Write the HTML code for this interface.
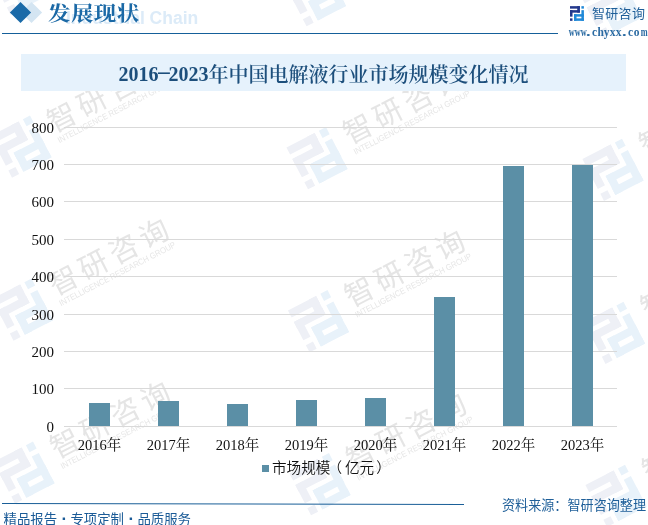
<!DOCTYPE html>
<html><head><meta charset="utf-8">
<style>
*{margin:0;padding:0;box-sizing:border-box}
html,body{width:648px;height:525px;overflow:hidden;background:#fff}
body{position:relative;font-family:"Liberation Sans","Noto Sans CJK SC",sans-serif}
.abs{position:absolute}
.dia{position:absolute;width:15px;height:15px;transform:rotate(45deg)}
.hdr-t{position:absolute;left:48px;top:2px;font:700 22.5px/28px "Liberation Serif","Noto Serif CJK SC",serif;color:#1b69a6;letter-spacing:0.4px;white-space:nowrap;transform:scaleY(0.9);transform-origin:0 0}
.hdr-wm{position:absolute;left:66px;top:8px;font:bold 17.5px/20px "Liberation Sans",sans-serif;color:#dcebf8;white-space:nowrap}
.hline{position:absolute;left:2px;top:33px;width:556px;height:1px;background:#15609a}
.brand{position:absolute;left:592px;top:5.5px;font:13px/16px "Liberation Sans","Noto Sans CJK SC",sans-serif;color:#1f5f99;white-space:nowrap;letter-spacing:0.3px}
.url{position:absolute;left:567.6px;top:25px;font:bold 11.5px/14px "Liberation Serif",serif;color:#2a6aa2;white-space:nowrap}
.url i{display:inline-block;width:6px;text-align:center;font-style:normal}
.url i.n{transform:scaleX(0.72)}
.url i.d{text-align:left;transform:scaleX(1.6);transform-origin:0 0;position:relative;left:0.3px}
.tbox{position:absolute;left:21px;top:54px;width:605px;height:37px;background:#e6f2fc}
.tcj{position:relative;top:1px}
.dash{display:inline-block;width:10px;font-weight:normal;transform:scaleX(2.3);position:relative;top:-3px;}
.ttl{position:absolute;left:21px;top:56px;width:605px;height:37px;text-align:center;font:600 20px/37px "Liberation Serif","Noto Serif CJK SC",serif;color:#1d4f7c;white-space:nowrap}
.gl{position:absolute;left:64px;width:553px;height:1px;background:#d9d9d9}
.yl{position:absolute;left:0;width:54px;text-align:right;font:15px/16px "Liberation Serif","Noto Serif CJK SC",serif;color:#111}
.bar{position:absolute;width:21px;background:#5b8fa6}
.xl{position:absolute;top:436.5px;width:80px;text-align:center;font:14.5px/16px "Liberation Serif","Noto Serif CJK SC",serif;color:#111;white-space:nowrap}
.leg-sq{position:absolute;left:262px;top:465px;width:6.5px;height:6.5px;background:#5b8fa6}
.leg{position:absolute;left:272px;top:457.5px;font:350 14.6px/20px "Liberation Sans","Noto Sans CJK SC",sans-serif;color:#111;white-space:nowrap}
.leg .pl{position:relative;left:-3px}
.leg .pr{position:relative;left:2px}
.fline{position:absolute;left:2px;top:503px;width:462px;height:1.5px;background:#1f6aa5}
.fl{position:absolute;left:3.5px;top:510px;font:400 13.4px/18px "Liberation Sans","Noto Sans CJK SC",sans-serif;color:#1b5b97;white-space:nowrap}
.fl b{display:inline-block;width:13.4px;text-align:center;font-weight:bold;font-size:17px;position:relative;left:0.5px}
.fr{position:absolute;left:502px;top:496.5px;font:400 13.1px/18px "Liberation Sans","Noto Sans CJK SC",sans-serif;color:#1f5f99;white-space:nowrap}
.wmt{font:400 29px "Noto Sans CJK SC",sans-serif;fill:#e5e5e5;letter-spacing:5px}
.wms{font:8.5px "Liberation Sans",sans-serif;fill:#e6e6e6}
#wrap{position:absolute;left:0;top:0;width:648px;height:525px;will-change:transform}
</style></head><body><div id="wrap">
<svg class="abs" style="left:0;top:0" width="648" height="525" viewBox="0 0 648 525"><g transform="translate(-236.00,-57.80) rotate(-27.3)"><g transform="translate(-71.9,-15.6) scale(3.2)"><rect x="0" y="0" width="9.9" height="2.5" fill="#eef0f6"/><rect x="7.25" y="0" width="2.65" height="6.5" fill="#eef0f6"/><rect x="0" y="4" width="9.9" height="2.5" fill="#eef0f6"/><rect x="0" y="4" width="2.5" height="6.5" fill="#eef0f6"/><rect x="0" y="12.2" width="2.5" height="2.5" fill="#eef0f6"/><rect x="11.4" y="0" width="2.5" height="2.5" fill="#e8f2fa"/><rect x="11.4" y="4" width="2.5" height="10.7" fill="#e8f2fa"/><rect x="4" y="8" width="9.9" height="2.5" fill="#e8f2fa"/><rect x="4" y="8" width="2.5" height="6.7" fill="#e8f2fa"/><rect x="4" y="12.2" width="9.9" height="2.5" fill="#e8f2fa"/></g><text x="-14.5" y="11" class="wmt">智研咨询</text><text x="-14" y="22.5" class="wms" textLength="130" lengthAdjust="spacingAndGlyphs">INTELLIGENCE RESEARCH GROUP</text></g><g transform="translate(-234.50,105.20) rotate(-27.3)"><g transform="translate(-71.9,-15.6) scale(3.2)"><rect x="0" y="0" width="9.9" height="2.5" fill="#eef0f6"/><rect x="7.25" y="0" width="2.65" height="6.5" fill="#eef0f6"/><rect x="0" y="4" width="9.9" height="2.5" fill="#eef0f6"/><rect x="0" y="4" width="2.5" height="6.5" fill="#eef0f6"/><rect x="0" y="12.2" width="2.5" height="2.5" fill="#eef0f6"/><rect x="11.4" y="0" width="2.5" height="2.5" fill="#e8f2fa"/><rect x="11.4" y="4" width="2.5" height="10.7" fill="#e8f2fa"/><rect x="4" y="8" width="9.9" height="2.5" fill="#e8f2fa"/><rect x="4" y="8" width="2.5" height="6.7" fill="#e8f2fa"/><rect x="4" y="12.2" width="9.9" height="2.5" fill="#e8f2fa"/></g><text x="-14.5" y="11" class="wmt">智研咨询</text><text x="-14" y="22.5" class="wms" textLength="130" lengthAdjust="spacingAndGlyphs">INTELLIGENCE RESEARCH GROUP</text></g><g transform="translate(-233.00,268.20) rotate(-27.3)"><g transform="translate(-71.9,-15.6) scale(3.2)"><rect x="0" y="0" width="9.9" height="2.5" fill="#eef0f6"/><rect x="7.25" y="0" width="2.65" height="6.5" fill="#eef0f6"/><rect x="0" y="4" width="9.9" height="2.5" fill="#eef0f6"/><rect x="0" y="4" width="2.5" height="6.5" fill="#eef0f6"/><rect x="0" y="12.2" width="2.5" height="2.5" fill="#eef0f6"/><rect x="11.4" y="0" width="2.5" height="2.5" fill="#e8f2fa"/><rect x="11.4" y="4" width="2.5" height="10.7" fill="#e8f2fa"/><rect x="4" y="8" width="9.9" height="2.5" fill="#e8f2fa"/><rect x="4" y="8" width="2.5" height="6.7" fill="#e8f2fa"/><rect x="4" y="12.2" width="9.9" height="2.5" fill="#e8f2fa"/></g><text x="-14.5" y="11" class="wmt">智研咨询</text><text x="-14" y="22.5" class="wms" textLength="130" lengthAdjust="spacingAndGlyphs">INTELLIGENCE RESEARCH GROUP</text></g><g transform="translate(-231.50,431.20) rotate(-27.3)"><g transform="translate(-71.9,-15.6) scale(3.2)"><rect x="0" y="0" width="9.9" height="2.5" fill="#eef0f6"/><rect x="7.25" y="0" width="2.65" height="6.5" fill="#eef0f6"/><rect x="0" y="4" width="9.9" height="2.5" fill="#eef0f6"/><rect x="0" y="4" width="2.5" height="6.5" fill="#eef0f6"/><rect x="0" y="12.2" width="2.5" height="2.5" fill="#eef0f6"/><rect x="11.4" y="0" width="2.5" height="2.5" fill="#e8f2fa"/><rect x="11.4" y="4" width="2.5" height="10.7" fill="#e8f2fa"/><rect x="4" y="8" width="9.9" height="2.5" fill="#e8f2fa"/><rect x="4" y="8" width="2.5" height="6.7" fill="#e8f2fa"/><rect x="4" y="12.2" width="9.9" height="2.5" fill="#e8f2fa"/></g><text x="-14.5" y="11" class="wmt">智研咨询</text><text x="-14" y="22.5" class="wms" textLength="130" lengthAdjust="spacingAndGlyphs">INTELLIGENCE RESEARCH GROUP</text></g><g transform="translate(-230.00,594.20) rotate(-27.3)"><g transform="translate(-71.9,-15.6) scale(3.2)"><rect x="0" y="0" width="9.9" height="2.5" fill="#eef0f6"/><rect x="7.25" y="0" width="2.65" height="6.5" fill="#eef0f6"/><rect x="0" y="4" width="9.9" height="2.5" fill="#eef0f6"/><rect x="0" y="4" width="2.5" height="6.5" fill="#eef0f6"/><rect x="0" y="12.2" width="2.5" height="2.5" fill="#eef0f6"/><rect x="11.4" y="0" width="2.5" height="2.5" fill="#e8f2fa"/><rect x="11.4" y="4" width="2.5" height="10.7" fill="#e8f2fa"/><rect x="4" y="8" width="9.9" height="2.5" fill="#e8f2fa"/><rect x="4" y="8" width="2.5" height="6.7" fill="#e8f2fa"/><rect x="4" y="12.2" width="9.9" height="2.5" fill="#e8f2fa"/></g><text x="-14.5" y="11" class="wmt">智研咨询</text><text x="-14" y="22.5" class="wms" textLength="130" lengthAdjust="spacingAndGlyphs">INTELLIGENCE RESEARCH GROUP</text></g><g transform="translate(60.00,-46.20) rotate(-27.3)"><g transform="translate(-71.9,-15.6) scale(3.2)"><rect x="0" y="0" width="9.9" height="2.5" fill="#eef0f6"/><rect x="7.25" y="0" width="2.65" height="6.5" fill="#eef0f6"/><rect x="0" y="4" width="9.9" height="2.5" fill="#eef0f6"/><rect x="0" y="4" width="2.5" height="6.5" fill="#eef0f6"/><rect x="0" y="12.2" width="2.5" height="2.5" fill="#eef0f6"/><rect x="11.4" y="0" width="2.5" height="2.5" fill="#e8f2fa"/><rect x="11.4" y="4" width="2.5" height="10.7" fill="#e8f2fa"/><rect x="4" y="8" width="9.9" height="2.5" fill="#e8f2fa"/><rect x="4" y="8" width="2.5" height="6.7" fill="#e8f2fa"/><rect x="4" y="12.2" width="9.9" height="2.5" fill="#e8f2fa"/></g><text x="-14.5" y="11" class="wmt">智研咨询</text><text x="-14" y="22.5" class="wms" textLength="130" lengthAdjust="spacingAndGlyphs">INTELLIGENCE RESEARCH GROUP</text></g><g transform="translate(61.50,116.80) rotate(-27.3)"><g transform="translate(-71.9,-15.6) scale(3.2)"><rect x="0" y="0" width="9.9" height="2.5" fill="#eef0f6"/><rect x="7.25" y="0" width="2.65" height="6.5" fill="#eef0f6"/><rect x="0" y="4" width="9.9" height="2.5" fill="#eef0f6"/><rect x="0" y="4" width="2.5" height="6.5" fill="#eef0f6"/><rect x="0" y="12.2" width="2.5" height="2.5" fill="#eef0f6"/><rect x="11.4" y="0" width="2.5" height="2.5" fill="#e8f2fa"/><rect x="11.4" y="4" width="2.5" height="10.7" fill="#e8f2fa"/><rect x="4" y="8" width="9.9" height="2.5" fill="#e8f2fa"/><rect x="4" y="8" width="2.5" height="6.7" fill="#e8f2fa"/><rect x="4" y="12.2" width="9.9" height="2.5" fill="#e8f2fa"/></g><text x="-14.5" y="11" class="wmt">智研咨询</text><text x="-14" y="22.5" class="wms" textLength="130" lengthAdjust="spacingAndGlyphs">INTELLIGENCE RESEARCH GROUP</text></g><g transform="translate(63.00,279.80) rotate(-27.3)"><g transform="translate(-71.9,-15.6) scale(3.2)"><rect x="0" y="0" width="9.9" height="2.5" fill="#eef0f6"/><rect x="7.25" y="0" width="2.65" height="6.5" fill="#eef0f6"/><rect x="0" y="4" width="9.9" height="2.5" fill="#eef0f6"/><rect x="0" y="4" width="2.5" height="6.5" fill="#eef0f6"/><rect x="0" y="12.2" width="2.5" height="2.5" fill="#eef0f6"/><rect x="11.4" y="0" width="2.5" height="2.5" fill="#e8f2fa"/><rect x="11.4" y="4" width="2.5" height="10.7" fill="#e8f2fa"/><rect x="4" y="8" width="9.9" height="2.5" fill="#e8f2fa"/><rect x="4" y="8" width="2.5" height="6.7" fill="#e8f2fa"/><rect x="4" y="12.2" width="9.9" height="2.5" fill="#e8f2fa"/></g><text x="-14.5" y="11" class="wmt">智研咨询</text><text x="-14" y="22.5" class="wms" textLength="130" lengthAdjust="spacingAndGlyphs">INTELLIGENCE RESEARCH GROUP</text></g><g transform="translate(64.50,442.80) rotate(-27.3)"><g transform="translate(-71.9,-15.6) scale(3.2)"><rect x="0" y="0" width="9.9" height="2.5" fill="#eef0f6"/><rect x="7.25" y="0" width="2.65" height="6.5" fill="#eef0f6"/><rect x="0" y="4" width="9.9" height="2.5" fill="#eef0f6"/><rect x="0" y="4" width="2.5" height="6.5" fill="#eef0f6"/><rect x="0" y="12.2" width="2.5" height="2.5" fill="#eef0f6"/><rect x="11.4" y="0" width="2.5" height="2.5" fill="#e8f2fa"/><rect x="11.4" y="4" width="2.5" height="10.7" fill="#e8f2fa"/><rect x="4" y="8" width="9.9" height="2.5" fill="#e8f2fa"/><rect x="4" y="8" width="2.5" height="6.7" fill="#e8f2fa"/><rect x="4" y="12.2" width="9.9" height="2.5" fill="#e8f2fa"/></g><text x="-14.5" y="11" class="wmt">智研咨询</text><text x="-14" y="22.5" class="wms" textLength="130" lengthAdjust="spacingAndGlyphs">INTELLIGENCE RESEARCH GROUP</text></g><g transform="translate(66.00,605.80) rotate(-27.3)"><g transform="translate(-71.9,-15.6) scale(3.2)"><rect x="0" y="0" width="9.9" height="2.5" fill="#eef0f6"/><rect x="7.25" y="0" width="2.65" height="6.5" fill="#eef0f6"/><rect x="0" y="4" width="9.9" height="2.5" fill="#eef0f6"/><rect x="0" y="4" width="2.5" height="6.5" fill="#eef0f6"/><rect x="0" y="12.2" width="2.5" height="2.5" fill="#eef0f6"/><rect x="11.4" y="0" width="2.5" height="2.5" fill="#e8f2fa"/><rect x="11.4" y="4" width="2.5" height="10.7" fill="#e8f2fa"/><rect x="4" y="8" width="9.9" height="2.5" fill="#e8f2fa"/><rect x="4" y="8" width="2.5" height="6.7" fill="#e8f2fa"/><rect x="4" y="12.2" width="9.9" height="2.5" fill="#e8f2fa"/></g><text x="-14.5" y="11" class="wmt">智研咨询</text><text x="-14" y="22.5" class="wms" textLength="130" lengthAdjust="spacingAndGlyphs">INTELLIGENCE RESEARCH GROUP</text></g><g transform="translate(356.00,-34.60) rotate(-27.3)"><g transform="translate(-71.9,-15.6) scale(3.2)"><rect x="0" y="0" width="9.9" height="2.5" fill="#eef0f6"/><rect x="7.25" y="0" width="2.65" height="6.5" fill="#eef0f6"/><rect x="0" y="4" width="9.9" height="2.5" fill="#eef0f6"/><rect x="0" y="4" width="2.5" height="6.5" fill="#eef0f6"/><rect x="0" y="12.2" width="2.5" height="2.5" fill="#eef0f6"/><rect x="11.4" y="0" width="2.5" height="2.5" fill="#e8f2fa"/><rect x="11.4" y="4" width="2.5" height="10.7" fill="#e8f2fa"/><rect x="4" y="8" width="9.9" height="2.5" fill="#e8f2fa"/><rect x="4" y="8" width="2.5" height="6.7" fill="#e8f2fa"/><rect x="4" y="12.2" width="9.9" height="2.5" fill="#e8f2fa"/></g><text x="-14.5" y="11" class="wmt">智研咨询</text><text x="-14" y="22.5" class="wms" textLength="130" lengthAdjust="spacingAndGlyphs">INTELLIGENCE RESEARCH GROUP</text></g><g transform="translate(357.50,128.40) rotate(-27.3)"><g transform="translate(-71.9,-15.6) scale(3.2)"><rect x="0" y="0" width="9.9" height="2.5" fill="#eef0f6"/><rect x="7.25" y="0" width="2.65" height="6.5" fill="#eef0f6"/><rect x="0" y="4" width="9.9" height="2.5" fill="#eef0f6"/><rect x="0" y="4" width="2.5" height="6.5" fill="#eef0f6"/><rect x="0" y="12.2" width="2.5" height="2.5" fill="#eef0f6"/><rect x="11.4" y="0" width="2.5" height="2.5" fill="#e8f2fa"/><rect x="11.4" y="4" width="2.5" height="10.7" fill="#e8f2fa"/><rect x="4" y="8" width="9.9" height="2.5" fill="#e8f2fa"/><rect x="4" y="8" width="2.5" height="6.7" fill="#e8f2fa"/><rect x="4" y="12.2" width="9.9" height="2.5" fill="#e8f2fa"/></g><text x="-14.5" y="11" class="wmt">智研咨询</text><text x="-14" y="22.5" class="wms" textLength="130" lengthAdjust="spacingAndGlyphs">INTELLIGENCE RESEARCH GROUP</text></g><g transform="translate(359.00,291.40) rotate(-27.3)"><g transform="translate(-71.9,-15.6) scale(3.2)"><rect x="0" y="0" width="9.9" height="2.5" fill="#eef0f6"/><rect x="7.25" y="0" width="2.65" height="6.5" fill="#eef0f6"/><rect x="0" y="4" width="9.9" height="2.5" fill="#eef0f6"/><rect x="0" y="4" width="2.5" height="6.5" fill="#eef0f6"/><rect x="0" y="12.2" width="2.5" height="2.5" fill="#eef0f6"/><rect x="11.4" y="0" width="2.5" height="2.5" fill="#e8f2fa"/><rect x="11.4" y="4" width="2.5" height="10.7" fill="#e8f2fa"/><rect x="4" y="8" width="9.9" height="2.5" fill="#e8f2fa"/><rect x="4" y="8" width="2.5" height="6.7" fill="#e8f2fa"/><rect x="4" y="12.2" width="9.9" height="2.5" fill="#e8f2fa"/></g><text x="-14.5" y="11" class="wmt">智研咨询</text><text x="-14" y="22.5" class="wms" textLength="130" lengthAdjust="spacingAndGlyphs">INTELLIGENCE RESEARCH GROUP</text></g><g transform="translate(360.50,454.40) rotate(-27.3)"><g transform="translate(-71.9,-15.6) scale(3.2)"><rect x="0" y="0" width="9.9" height="2.5" fill="#eef0f6"/><rect x="7.25" y="0" width="2.65" height="6.5" fill="#eef0f6"/><rect x="0" y="4" width="9.9" height="2.5" fill="#eef0f6"/><rect x="0" y="4" width="2.5" height="6.5" fill="#eef0f6"/><rect x="0" y="12.2" width="2.5" height="2.5" fill="#eef0f6"/><rect x="11.4" y="0" width="2.5" height="2.5" fill="#e8f2fa"/><rect x="11.4" y="4" width="2.5" height="10.7" fill="#e8f2fa"/><rect x="4" y="8" width="9.9" height="2.5" fill="#e8f2fa"/><rect x="4" y="8" width="2.5" height="6.7" fill="#e8f2fa"/><rect x="4" y="12.2" width="9.9" height="2.5" fill="#e8f2fa"/></g><text x="-14.5" y="11" class="wmt">智研咨询</text><text x="-14" y="22.5" class="wms" textLength="130" lengthAdjust="spacingAndGlyphs">INTELLIGENCE RESEARCH GROUP</text></g><g transform="translate(362.00,617.40) rotate(-27.3)"><g transform="translate(-71.9,-15.6) scale(3.2)"><rect x="0" y="0" width="9.9" height="2.5" fill="#eef0f6"/><rect x="7.25" y="0" width="2.65" height="6.5" fill="#eef0f6"/><rect x="0" y="4" width="9.9" height="2.5" fill="#eef0f6"/><rect x="0" y="4" width="2.5" height="6.5" fill="#eef0f6"/><rect x="0" y="12.2" width="2.5" height="2.5" fill="#eef0f6"/><rect x="11.4" y="0" width="2.5" height="2.5" fill="#e8f2fa"/><rect x="11.4" y="4" width="2.5" height="10.7" fill="#e8f2fa"/><rect x="4" y="8" width="9.9" height="2.5" fill="#e8f2fa"/><rect x="4" y="8" width="2.5" height="6.7" fill="#e8f2fa"/><rect x="4" y="12.2" width="9.9" height="2.5" fill="#e8f2fa"/></g><text x="-14.5" y="11" class="wmt">智研咨询</text><text x="-14" y="22.5" class="wms" textLength="130" lengthAdjust="spacingAndGlyphs">INTELLIGENCE RESEARCH GROUP</text></g><g transform="translate(652.00,-23.00) rotate(-27.3)"><g transform="translate(-71.9,-15.6) scale(3.2)"><rect x="0" y="0" width="9.9" height="2.5" fill="#eef0f6"/><rect x="7.25" y="0" width="2.65" height="6.5" fill="#eef0f6"/><rect x="0" y="4" width="9.9" height="2.5" fill="#eef0f6"/><rect x="0" y="4" width="2.5" height="6.5" fill="#eef0f6"/><rect x="0" y="12.2" width="2.5" height="2.5" fill="#eef0f6"/><rect x="11.4" y="0" width="2.5" height="2.5" fill="#e8f2fa"/><rect x="11.4" y="4" width="2.5" height="10.7" fill="#e8f2fa"/><rect x="4" y="8" width="9.9" height="2.5" fill="#e8f2fa"/><rect x="4" y="8" width="2.5" height="6.7" fill="#e8f2fa"/><rect x="4" y="12.2" width="9.9" height="2.5" fill="#e8f2fa"/></g><text x="-14.5" y="11" class="wmt">智研咨询</text><text x="-14" y="22.5" class="wms" textLength="130" lengthAdjust="spacingAndGlyphs">INTELLIGENCE RESEARCH GROUP</text></g><g transform="translate(653.50,140.00) rotate(-27.3)"><g transform="translate(-71.9,-15.6) scale(3.2)"><rect x="0" y="0" width="9.9" height="2.5" fill="#eef0f6"/><rect x="7.25" y="0" width="2.65" height="6.5" fill="#eef0f6"/><rect x="0" y="4" width="9.9" height="2.5" fill="#eef0f6"/><rect x="0" y="4" width="2.5" height="6.5" fill="#eef0f6"/><rect x="0" y="12.2" width="2.5" height="2.5" fill="#eef0f6"/><rect x="11.4" y="0" width="2.5" height="2.5" fill="#e8f2fa"/><rect x="11.4" y="4" width="2.5" height="10.7" fill="#e8f2fa"/><rect x="4" y="8" width="9.9" height="2.5" fill="#e8f2fa"/><rect x="4" y="8" width="2.5" height="6.7" fill="#e8f2fa"/><rect x="4" y="12.2" width="9.9" height="2.5" fill="#e8f2fa"/></g><text x="-14.5" y="11" class="wmt">智研咨询</text><text x="-14" y="22.5" class="wms" textLength="130" lengthAdjust="spacingAndGlyphs">INTELLIGENCE RESEARCH GROUP</text></g><g transform="translate(655.00,303.00) rotate(-27.3)"><g transform="translate(-71.9,-15.6) scale(3.2)"><rect x="0" y="0" width="9.9" height="2.5" fill="#eef0f6"/><rect x="7.25" y="0" width="2.65" height="6.5" fill="#eef0f6"/><rect x="0" y="4" width="9.9" height="2.5" fill="#eef0f6"/><rect x="0" y="4" width="2.5" height="6.5" fill="#eef0f6"/><rect x="0" y="12.2" width="2.5" height="2.5" fill="#eef0f6"/><rect x="11.4" y="0" width="2.5" height="2.5" fill="#e8f2fa"/><rect x="11.4" y="4" width="2.5" height="10.7" fill="#e8f2fa"/><rect x="4" y="8" width="9.9" height="2.5" fill="#e8f2fa"/><rect x="4" y="8" width="2.5" height="6.7" fill="#e8f2fa"/><rect x="4" y="12.2" width="9.9" height="2.5" fill="#e8f2fa"/></g><text x="-14.5" y="11" class="wmt">智研咨询</text><text x="-14" y="22.5" class="wms" textLength="130" lengthAdjust="spacingAndGlyphs">INTELLIGENCE RESEARCH GROUP</text></g><g transform="translate(656.50,466.00) rotate(-27.3)"><g transform="translate(-71.9,-15.6) scale(3.2)"><rect x="0" y="0" width="9.9" height="2.5" fill="#eef0f6"/><rect x="7.25" y="0" width="2.65" height="6.5" fill="#eef0f6"/><rect x="0" y="4" width="9.9" height="2.5" fill="#eef0f6"/><rect x="0" y="4" width="2.5" height="6.5" fill="#eef0f6"/><rect x="0" y="12.2" width="2.5" height="2.5" fill="#eef0f6"/><rect x="11.4" y="0" width="2.5" height="2.5" fill="#e8f2fa"/><rect x="11.4" y="4" width="2.5" height="10.7" fill="#e8f2fa"/><rect x="4" y="8" width="9.9" height="2.5" fill="#e8f2fa"/><rect x="4" y="8" width="2.5" height="6.7" fill="#e8f2fa"/><rect x="4" y="12.2" width="9.9" height="2.5" fill="#e8f2fa"/></g><text x="-14.5" y="11" class="wmt">智研咨询</text><text x="-14" y="22.5" class="wms" textLength="130" lengthAdjust="spacingAndGlyphs">INTELLIGENCE RESEARCH GROUP</text></g><g transform="translate(658.00,629.00) rotate(-27.3)"><g transform="translate(-71.9,-15.6) scale(3.2)"><rect x="0" y="0" width="9.9" height="2.5" fill="#eef0f6"/><rect x="7.25" y="0" width="2.65" height="6.5" fill="#eef0f6"/><rect x="0" y="4" width="9.9" height="2.5" fill="#eef0f6"/><rect x="0" y="4" width="2.5" height="6.5" fill="#eef0f6"/><rect x="0" y="12.2" width="2.5" height="2.5" fill="#eef0f6"/><rect x="11.4" y="0" width="2.5" height="2.5" fill="#e8f2fa"/><rect x="11.4" y="4" width="2.5" height="10.7" fill="#e8f2fa"/><rect x="4" y="8" width="9.9" height="2.5" fill="#e8f2fa"/><rect x="4" y="8" width="2.5" height="6.7" fill="#e8f2fa"/><rect x="4" y="12.2" width="9.9" height="2.5" fill="#e8f2fa"/></g><text x="-14.5" y="11" class="wmt">智研咨询</text><text x="-14" y="22.5" class="wms" textLength="130" lengthAdjust="spacingAndGlyphs">INTELLIGENCE RESEARCH GROUP</text></g></svg>
<div class="dia" style="left:23.5px;top:4.7px;background:#d4e5f2"></div>
<div class="dia" style="left:13px;top:4.7px;background:#1a6aa8"></div>
<div class="hdr-wm">Industrial Chain</div>
<div class="hdr-t">发展现状</div>
<div class="hline"></div>
<svg class="abs" style="left:570px;top:6px" width="14" height="15" viewBox="0 0 14 14.7"><rect x="0" y="0" width="9.9" height="2.5" fill="#23388c"/><rect x="7.25" y="0" width="2.65" height="6.5" fill="#23388c"/><rect x="0" y="4" width="9.9" height="2.5" fill="#23388c"/><rect x="0" y="4" width="2.5" height="6.5" fill="#23388c"/><rect x="0" y="12.2" width="2.5" height="2.5" fill="#23388c"/><rect x="11.4" y="0" width="2.5" height="2.5" fill="#2189d8"/><rect x="11.4" y="4" width="2.5" height="10.7" fill="#2189d8"/><rect x="4" y="8" width="9.9" height="2.5" fill="#2189d8"/><rect x="4" y="8" width="2.5" height="6.7" fill="#2189d8"/><rect x="4" y="12.2" width="9.9" height="2.5" fill="#2189d8"/></svg>
<div class="brand">智研咨询</div>
<div class="url"><i class="n">w</i><i class="n">w</i><i class="n">w</i><i class="d">.</i><i>c</i><i>h</i><i>y</i><i>x</i><i>x</i><i class="d">.</i><i>c</i><i>o</i><i class="n">m</i></div>
<div class="tbox"></div>
<div class="ttl">2016<span class="dash">-</span>2023<span class="tcj">年中国电解液行业市场规模变化情况</span></div>
<div class="gl" style="top:426px"></div><div class="yl" style="top:419.0px">0</div><div class="gl" style="top:388px"></div><div class="yl" style="top:381.0px">100</div><div class="gl" style="top:351px"></div><div class="yl" style="top:344.0px">200</div><div class="gl" style="top:314px"></div><div class="yl" style="top:307.0px">300</div><div class="gl" style="top:276px"></div><div class="yl" style="top:269.0px">400</div><div class="gl" style="top:239px"></div><div class="yl" style="top:232.0px">500</div><div class="gl" style="top:201px"></div><div class="yl" style="top:194.0px">600</div><div class="gl" style="top:164px"></div><div class="yl" style="top:157.0px">700</div><div class="gl" style="top:127px"></div><div class="yl" style="top:120.0px">800</div>
<div class="bar" style="left:89px;top:403px;height:23px"></div><div class="xl" style="left:59.50px">2016年</div><div class="bar" style="left:158px;top:401px;height:25px"></div><div class="xl" style="left:128.50px">2017年</div><div class="bar" style="left:227px;top:404px;height:22px"></div><div class="xl" style="left:197.50px">2018年</div><div class="bar" style="left:296px;top:400px;height:26px"></div><div class="xl" style="left:266.50px">2019年</div><div class="bar" style="left:365px;top:398px;height:28px"></div><div class="xl" style="left:335.50px">2020年</div><div class="bar" style="left:434px;top:297px;height:129px"></div><div class="xl" style="left:404.50px">2021年</div><div class="bar" style="left:503px;top:166px;height:260px"></div><div class="xl" style="left:473.50px">2022年</div><div class="bar" style="left:572px;top:165px;height:261px"></div><div class="xl" style="left:542.50px">2023年</div>
<div class="leg-sq"></div>
<div class="leg">市场规模<span class="pl">（</span>亿元<span class="pr">）</span></div>
<svg class="abs" style="left:0;top:495px" width="470" height="15"><line x1="2" y1="8.5" x2="464" y2="9.5" stroke="#1a5f98" stroke-width="1.1"/></svg>
<div class="fl">精品报告<b>·</b>专项定制<b>·</b>品质服务</div>
<div class="fr">资料来源：智研咨询整理</div>
</div></body></html>
